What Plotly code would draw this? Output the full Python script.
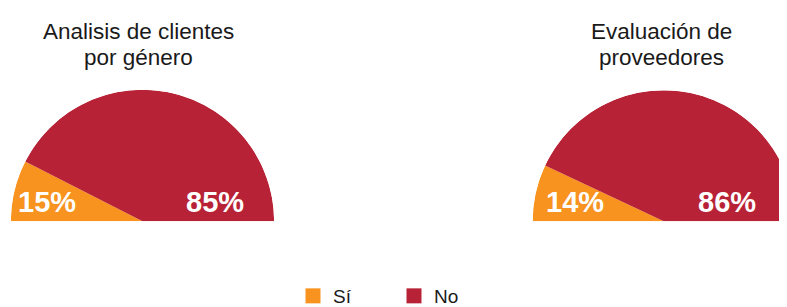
import plotly.graph_objects as go

categories = ["Sí", "No"]
colors = ["#F7931E", "#B82236"]
title_lines = [["Analisis de clientes", "por género"], ["Evaluación de", "proveedores"]]
values_clientes = [15, 85]
values_proveedores = [14, 86]

W, H = 787, 307
OFF = 8  # page body margin offset compensation
FONT = "Liberation Sans, Arial, sans-serif"

def px(x):
    return (x - OFF) / W

def py(y):
    return (H - (y - OFF)) / H

fig = go.Figure()

def add_half_pie(values, polar_id):
    total = sum(values)
    start = 0.0
    for cat, val, col in zip(categories, values, colors):
        width = val / total * 180.0
        fig.add_trace(go.Barpolar(
            r=[1], theta=[start + width / 2], width=[width],
            name=cat, legendgroup=cat, showlegend=False,
            marker=dict(color=col, line=dict(width=0)),
            subplot=polar_id, hoverinfo="skip",
        ))
        start += width

add_half_pie(values_clientes, "polar")
add_half_pie(values_proveedores, "polar2")

# legend entries with larger square swatches
for cat, col in zip(categories, colors):
    fig.add_trace(go.Scatterpolar(
        r=[None], theta=[None], mode="markers", name=cat, legendgroup=cat,
        marker=dict(symbol="square", size=15, color=col), subplot="polar",
        hoverinfo="skip",
    ))

def polar_layout(cx, cy, R):
    return dict(
        domain=dict(x=[px(cx - R), min(1.0, px(cx + R))], y=[py(cy), py(cy - R)]),
        sector=[0, 180], hole=0, bgcolor="rgba(0,0,0,0)",
        radialaxis=dict(visible=False, range=[0, 1]),
        angularaxis=dict(visible=False, direction="clockwise", rotation=180),
    )

fig.update_layout(
    polar=polar_layout(142.5, 222.7, 132.5),
    polar2=polar_layout(664.5, 222.7, 132.0),
)

annotations = []
for lines, cx in zip(title_lines, [138, 661]):
    for line, ly in zip(lines, [31.5, 57.5]):
        annotations.append(dict(text=line, x=px(cx), y=py(ly), xref="paper", yref="paper",
                                xanchor="center", yanchor="middle", showarrow=False,
                                font=dict(family=FONT, size=22.5, color="#1a1a1a")))

label_x = [[47, 215], [575, 726.5]]
for vals, xs in zip([values_clientes, values_proveedores], label_x):
    for v, lx in zip(vals, xs):
        annotations.append(dict(text=f"<b>{v}%</b>", x=px(lx), y=py(203),
                                xref="paper", yref="paper", xanchor="center", yanchor="middle",
                                showarrow=False,
                                font=dict(family=FONT, size=29, color="white")))

fig.update_layout(
    width=W, height=H,
    margin=dict(l=0, r=0, t=0, b=0),
    paper_bgcolor="white", plot_bgcolor="white",
    annotations=annotations,
    showlegend=True,
    legend=dict(orientation="h", x=285 / W, xanchor="left", y=(H - 290) / H, yanchor="middle",
                entrywidth=56, entrywidthmode="pixels",
                font=dict(family=FONT, size=19, color="#1a1a1a"),
                bgcolor="rgba(0,0,0,0)"),
)

fig.write_html("out.html")
